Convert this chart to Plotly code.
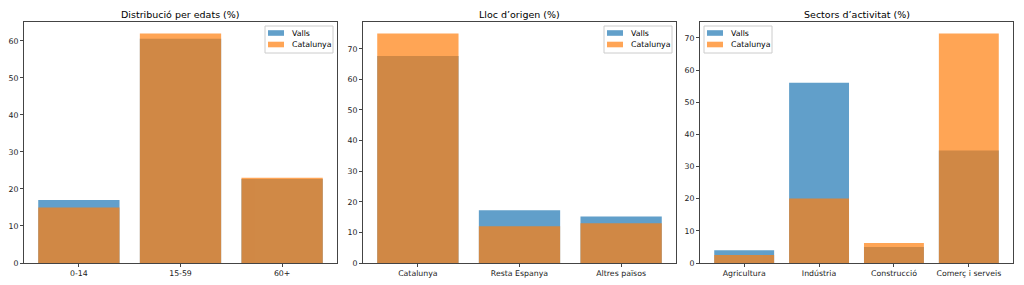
import plotly.graph_objects as go

# ---- data ----
edat_cats = ["0-14", "15-59", "60+"]
edat_valls = [17.0, 60.6, 22.7]
edat_cat = [15.0, 62.0, 23.0]

origen_cats = ["Catalunya", "Resta Espanya", "Altres països"]
origen_valls = [67.6, 17.2, 15.2]
origen_cat = [75.0, 12.0, 13.0]

sector_cats = ["Agricultura", "Indústria", "Construcció", "Comerç i serveis"]
sector_valls = [4.0, 56.1, 5.0, 35.0]
sector_cat = [2.5, 20.1, 6.2, 71.4]

titles = ["Distribució per edats (%)", "Lloc d’origen (%)", "Sectors d’activitat (%)"]
series_names = ["Valls", "Catalunya"]
legend_locs = ["right", "right", "left"]

W, H = 1024, 285
BLUE, ORANGE = "#1f77b4", "#ff7f0e"
FONT = "DejaVu Sans"
FS = 7.8

axes_px = [(24, 337), (363, 676), (700, 1013)]
y_top_px, y_bot_px = 22, 263

panels = [
    (edat_cats, edat_valls, edat_cat),
    (origen_cats, origen_valls, origen_cat),
    (sector_cats, sector_valls, sector_cat),
]

fig = go.Figure()
layout = dict(
    width=W, height=H, margin=dict(l=0, r=0, t=0, b=0, autoexpand=False),
    paper_bgcolor="white", plot_bgcolor="white",
    barmode="overlay", showlegend=False,
    font=dict(family=FONT, size=FS, color="black"),
)
shapes, annotations = [], []

def px_x(x):
    return x / W

def px_y(y):
    return 1 - y / H

for i, (cats, valls, cat) in enumerate(panels):
    n = len(cats)
    xs = list(range(n))
    sfx = "" if i == 0 else str(i + 1)
    xa, ya = "x" + sfx, "y" + sfx
    fig.add_trace(go.Bar(x=xs, y=valls, width=0.8, marker=dict(color=BLUE, line=dict(width=0)),
                         opacity=0.7, name=series_names[0], xaxis=xa, yaxis=ya))
    fig.add_trace(go.Bar(x=xs, y=cat, width=0.8, marker=dict(color=ORANGE, line=dict(width=0)),
                         opacity=0.7, name=series_names[1], xaxis=xa, yaxis=ya))
    span = (n - 1 + 0.4) - (-0.4)
    xr = [-0.4 - 0.05 * span, n - 1 + 0.4 + 0.05 * span]
    ymax = max(max(valls), max(cat)) * 1.05
    x0, x1 = axes_px[i]
    axis_common = dict(showline=True, linecolor="#444", linewidth=1, mirror=True,
                       ticks="outside", ticklen=3, tickcolor="#444", tickwidth=1,
                       showgrid=False, zeroline=False, automargin=False,
                       tickfont=dict(family=FONT, size=FS, color="#222"))
    layout["xaxis" + sfx] = dict(domain=[px_x(x0), px_x(x1)], range=xr, anchor=ya,
                                 tickmode="array", tickvals=xs, ticktext=cats, **axis_common)
    layout["yaxis" + sfx] = dict(domain=[px_y(y_bot_px), px_y(y_top_px)], range=[0, ymax], anchor=xa,
                                 tickmode="linear", tick0=0, dtick=10, **axis_common)
    # title
    annotations.append(dict(text=titles[i], x=px_x((x0 + x1) / 2), y=px_y(14), xref="paper", yref="paper",
                            xanchor="center", yanchor="middle", showarrow=False,
                            font=dict(family=FONT, size=9.5, color="black")))
    # legend (manual, matplotlib-like)
    bw, bh = 68, 27
    if legend_locs[i] == "right":
        bx0 = x1 - 4 - bw
    else:
        bx0 = x0 + 4
    by0 = y_top_px + 4
    shapes.append(dict(type="rect", xref="paper", yref="paper",
                       x0=px_x(bx0), x1=px_x(bx0 + bw), y0=px_y(by0), y1=px_y(by0 + bh),
                       line=dict(color="#cccccc", width=1), fillcolor="rgba(255,255,255,0.8)", layer="above"))
    for k, (nm, col) in enumerate(zip(series_names, [BLUE, ORANGE])):
        cy = by0 + 7 + k * 11.5
        shapes.append(dict(type="rect", xref="paper", yref="paper",
                           x0=px_x(bx0 + 3), x1=px_x(bx0 + 19), y0=px_y(cy - 2.8), y1=px_y(cy + 2.8),
                           line=dict(width=0), fillcolor=col, opacity=0.7, layer="above"))
        annotations.append(dict(text=nm, x=px_x(bx0 + 25), y=px_y(cy), xref="paper", yref="paper",
                                xanchor="left", yanchor="middle", showarrow=False,
                                font=dict(family=FONT, size=FS, color="black")))

layout["shapes"] = shapes
layout["annotations"] = annotations
fig.update_layout(**layout)
fig.write_html("out.html")
